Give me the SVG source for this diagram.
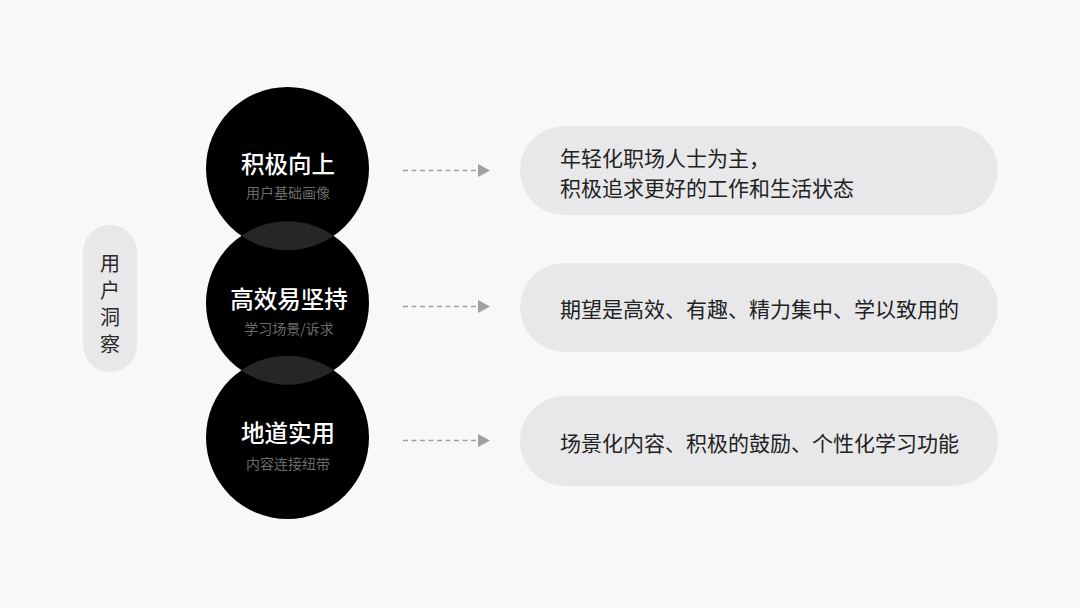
<svg xmlns="http://www.w3.org/2000/svg" width="1080" height="608" viewBox="0 0 1080 608">
  <defs>
    <style>
      .cjk { font-family: "Noto Sans CJK SC", "Noto Sans", sans-serif; dominant-baseline: central; }
      .circle { fill: #000; }
      .lens { fill: #262626; }
      .title { font-size: 23.5px; font-weight: 500; fill: #fff; text-anchor: middle; }
      .sub { font-size: 14px; fill: #6b6b6b; text-anchor: middle; }
      .pill { fill: #e8e8ea; }
      .ptext { font-size: 21px; fill: #222; }
      .side { font-size: 20px; fill: #2a2a2a; text-anchor: middle; }
      .dash { stroke: #a0a0a0; stroke-width: 1.5; stroke-dasharray: 5 3.5; fill: none; }
      .head { fill: #a0a0a0; }
    </style>
  </defs>
  <rect width="1080" height="608" fill="#f8f8f8"/>

  <g id="side-label">
    <rect x="83" y="225" width="54" height="147" rx="27" fill="#e8e8ea"/>
    <text class="cjk side" x="110" y="262">用</text>
    <text class="cjk side" x="110" y="289">户</text>
    <text class="cjk side" x="110" y="316">洞</text>
    <text class="cjk side" x="110" y="343">察</text>
  </g>

  <g id="circle-1">
    <circle class="circle" cx="287.5" cy="168.5" r="81.5"/>
    <text class="cjk title" x="288" y="163">积极向上</text>
    <text class="cjk sub" x="288" y="192">用户基础画像</text>
  </g>
  <g id="circle-2">
    <circle class="circle" cx="287.5" cy="303" r="81.5"/>
    <text class="cjk title" x="289" y="298">高效易坚持</text>
    <text class="cjk sub" x="289" y="328">学习场景/诉求</text>
  </g>
  <g id="circle-3">
    <circle class="circle" cx="287.5" cy="437.5" r="81.5"/>
    <text class="cjk title" x="288" y="432">地道实用</text>
    <text class="cjk sub" x="288" y="463">内容连接纽带</text>
  </g>
  <g id="overlaps">
    <path class="lens" d="M 241.2 235.75 A 81.5 81.5 0 0 1 333.8 235.75 A 81.5 81.5 0 0 1 241.2 235.75 Z"/>
    <path class="lens" d="M 241.2 370.25 A 81.5 81.5 0 0 1 333.8 370.25 A 81.5 81.5 0 0 1 241.2 370.25 Z"/>
  </g>

  <g id="connectors">
    <line class="dash" x1="403" y1="170.5" x2="478" y2="170.5"/>
    <path class="head" d="M 478 164 L 490 170.5 L 478 177 Z"/>
    <line class="dash" x1="403" y1="306.5" x2="478" y2="306.5"/>
    <path class="head" d="M 478 300 L 490 306.5 L 478 313 Z"/>
    <line class="dash" x1="403" y1="440.5" x2="478" y2="440.5"/>
    <path class="head" d="M 478 434 L 490 440.5 L 478 447 Z"/>
  </g>

  <g id="pill-1">
    <rect class="pill" x="520" y="126" width="478" height="89" rx="44.5"/>
    <text class="cjk ptext" x="560" y="157">年轻化职场人士为主，</text>
    <text class="cjk ptext" x="560" y="187">积极追求更好的工作和生活状态</text>
  </g>
  <g id="pill-2">
    <rect class="pill" x="520" y="263" width="478" height="89" rx="44.5"/>
    <text class="cjk ptext" x="560" y="307.5">期望是高效、有趣、精力集中、学以致用的</text>
  </g>
  <g id="pill-3">
    <rect class="pill" x="520" y="396" width="478" height="90" rx="45"/>
    <text class="cjk ptext" x="560" y="442">场景化内容、积极的鼓励、个性化学习功能</text>
  </g>
</svg>
